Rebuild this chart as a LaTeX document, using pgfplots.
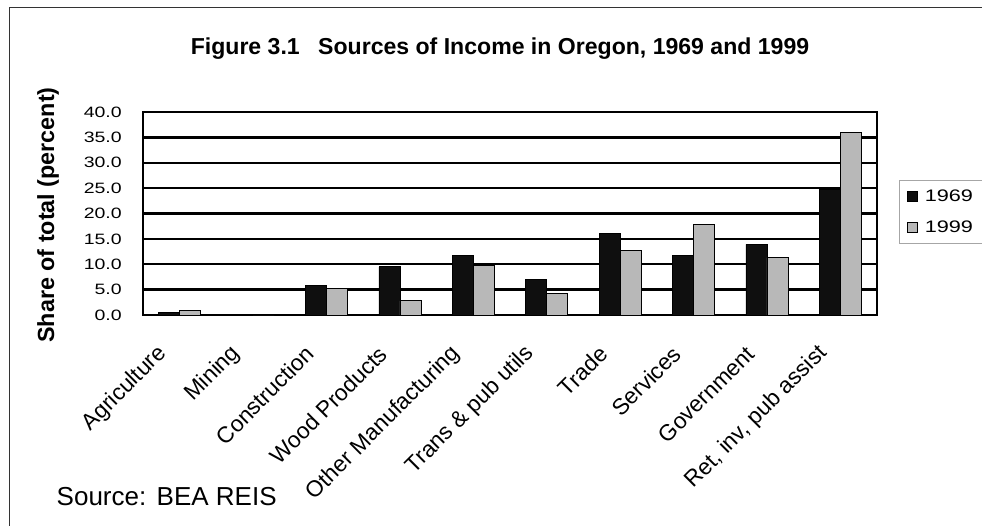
\documentclass[border=0pt]{standalone}
\usepackage{pgfplots}
\pgfplotsset{compat=1.18}
\usepackage{pgfplotstable}
\usepackage{fontspec}
\setmainfont{Liberation Sans}
\newfontfamily\widefont[FakeStretch=1.3]{Liberation Sans}

\definecolor{barblack}{gray}{0.06}
\definecolor{bargray}{gray}{0.72}

% Share of total personal income (percent), by source
\pgfplotstableread{
idx v69  v99
0   0.5  0.9
1   0.0  0.0
2   5.8  5.3
3   9.5  2.8
4   11.7 9.8
5   7.0  4.3
6   16.1 12.7
7   11.7 17.9
8   13.9 11.3
9   24.8 35.9
}\incometable

\newcommand\catfont{\fontsize{17}{19}\selectfont}

\begin{document}
\begin{tikzpicture}
\path[use as bounding box] (0pt,0pt) rectangle (736.5pt,393.75pt);
\draw[line width=1.1pt, black!80] (7.1pt,-2pt) -- (7.1pt,388.1pt) -- (740pt,388.1pt);

\node[anchor=base, font=\bfseries\fontsize{17.3}{20}\selectfont] at (375pt,352.5pt)
  {Figure 3.1\hspace{0.8em}Sources of Income in Oregon, 1969 and 1999};
\node[rotate=90, font=\bfseries\fontsize{17.5}{20}\selectfont] at (36pt,232.5pt)
  {Share of total (percent)};
\node[anchor=base west, font=\fontsize{19.5}{22}\selectfont] at (39pt,15pt)
  {Source:\hspace{0.4em}BEA REIS};

\begin{axis}[
  at={(107.25pt,157.5pt)}, anchor=south west,
  scale only axis, width=550.5pt, height=152.25pt,
  xmin=-0.5, xmax=9.5, ymin=0, ymax=40,
  ybar=0pt, bar width=15.75pt,
  xtick=\empty,
  ytick={0,5,...,40},
  ymajorgrids,
  grid style={line width=1.8pt, black},
  axis line style={line width=1.6pt, black},
  major tick length=0pt,
  yticklabel style={font=\widefont\fontsize{11.25}{12}\selectfont,
    anchor=east, inner sep=0pt, xshift=-15.75pt,
    /pgf/number format/fixed, /pgf/number format/fixed zerofill,
    /pgf/number format/precision=1,
    /pgf/number format/assume math mode=true},
  legend style={at={(1.030,0.665)}, anchor=north west, draw=black!35,
    fill=white, font=\widefont\fontsize{12.5}{14}\selectfont,
    row sep=9pt, column sep=3pt, inner xsep=6pt, inner ysep=5pt},
  legend cell align=left,
  legend image code/.code={\draw[#1] (0pt,-3.75pt) rectangle (7.5pt,3.75pt);},
  clip=false,
]
\addplot[fill=barblack, draw=black, line width=0.6pt] table[x=idx, y=v69] {\incometable};
\addplot[fill=bargray, draw=black, line width=0.6pt] table[x=idx, y=v99] {\incometable};
\legend{1969,1999}

\path (axis cs:0,0) ++(-10pt,-24pt) node[rotate=45, anchor=east, font=\catfont] {Agriculture};
\path (axis cs:1,0) ++(-10pt,-24pt) node[rotate=45, anchor=east, font=\catfont] {Mining};
\path (axis cs:2,0) ++(-10pt,-24pt) node[rotate=45, anchor=east, font=\catfont] {Construction};
\path (axis cs:3,0) ++(-10pt,-24pt) node[rotate=45, anchor=east, font=\catfont] {Wood Products};
\path (axis cs:4,0) ++(-10pt,-24pt) node[rotate=45, anchor=east, font=\catfont] {Other Manufacturing};
\path (axis cs:5,0) ++(-10pt,-24pt) node[rotate=45, anchor=east, font=\catfont] {Trans \& pub utils};
\path (axis cs:6,0) ++(-10pt,-24pt) node[rotate=45, anchor=east, font=\catfont] {Trade};
\path (axis cs:7,0) ++(-10pt,-24pt) node[rotate=45, anchor=east, font=\catfont] {Services};
\path (axis cs:8,0) ++(-10pt,-24pt) node[rotate=45, anchor=east, font=\catfont] {Government};
\path (axis cs:9,0) ++(-10pt,-24pt) node[rotate=45, anchor=east, font=\catfont] {Ret, inv, pub assist};
\end{axis}
\end{tikzpicture}
\end{document}
